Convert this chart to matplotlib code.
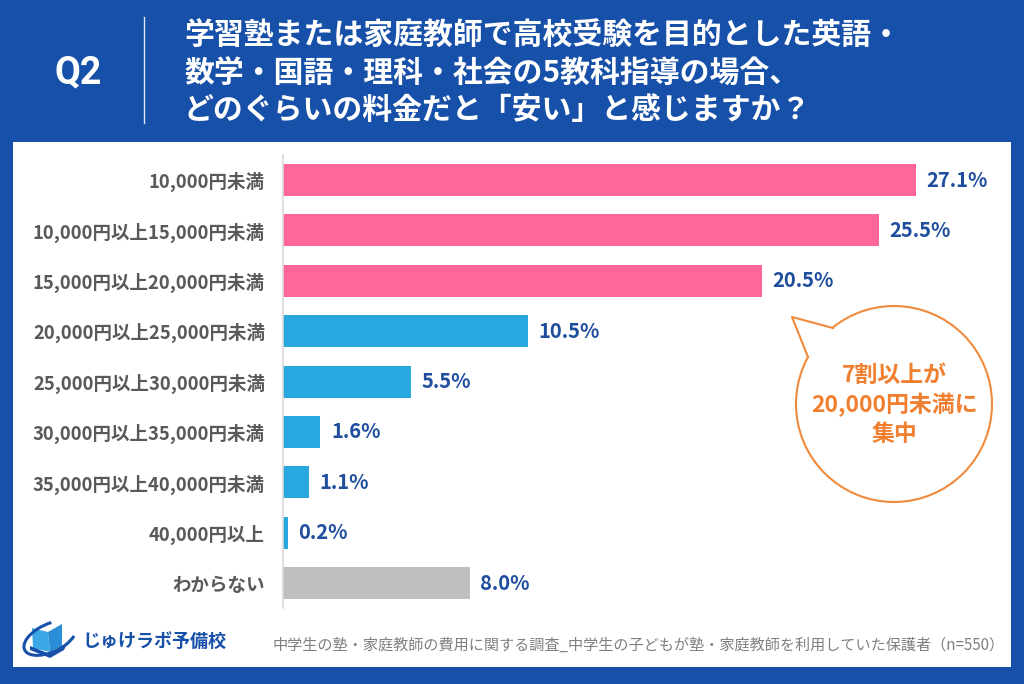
import matplotlib
matplotlib.use("Agg")
import matplotlib.pyplot as plt
from matplotlib.patches import Rectangle, Circle, Polygon, Arc

plt.rcParams['font.family'] = ['Noto Sans CJK JP', 'DejaVu Sans']

# data
categories = ["10,000円未満", "10,000円以上15,000円未満", "15,000円以上20,000円未満",
              "20,000円以上25,000円未満", "25,000円以上30,000円未満", "30,000円以上35,000円未満",
              "35,000円以上40,000円未満", "40,000円以上", "わからない"]
values = [27.1, 25.5, 20.5, 10.5, 5.5, 1.6, 1.1, 0.2, 8.0]
bar_colors = ["#ff6699"] * 3 + ["#29a8e0"] * 5 + ["#bfbfbf"]

title_lines = ["学習塾または家庭教師で高校受験を目的とした英語・",
               "数学・国語・理科・社会の5教科指導の場合、",
               "どのぐらいの料金だと「安い」と感じますか？"]
source = "中学生の塾・家庭教師の費用に関する調査_中学生の子どもが塾・家庭教師を利用していた保護者（n=550）"
bubble_text = "7割以上が\n20,000円未満に\n集中"

W, H = 1024, 684
BLUE = "#1750a8"
fig = plt.figure(figsize=(W / 100, H / 100), dpi=100)
fig.patch.set_facecolor(BLUE)

# overlay in pixel coords
ov = fig.add_axes([0, 0, 1, 1])
ov.set_xlim(0, W)
ov.set_ylim(H, 0)
ov.axis("off")
ov.add_patch(Rectangle((13, 142), 998, 525, facecolor="white", edgecolor="none", zorder=0))

# header
ov.text(78, 73, "Q2", color="white", fontsize=27, fontweight="bold", ha="center", va="center",
        family="Roboto")
ov.plot([144, 144], [17, 123], color="white", lw=1, alpha=0.85)
for i, line in enumerate(title_lines):
    ov.text(184, 36 + i * 37.5, line, color="white", fontsize=21.5, fontweight="bold",
            ha="left", va="center")

# bars
px_per = 23.36
ax_left, ax_right = 283, 1010
ax_top, ax_bot = 154.8, 608.4
ax = fig.add_axes([ax_left / W, (H - ax_bot) / H, (ax_right - ax_left) / W, (ax_bot - ax_top) / H])
ax.set_facecolor("none")
y = list(range(len(values)))
ax.barh(y, values, height=0.635, color=bar_colors, zorder=2)
ax.set_xlim(0, (ax_right - ax_left) / px_per)
ax.set_ylim(len(values) - 0.5, -0.5)
for s in ["top", "right", "bottom"]:
    ax.spines[s].set_visible(False)
ax.spines["left"].set_color("#d9d9d9")
ax.spines["left"].set_linewidth(1.2)
ax.set_xticks([])
ax.set_yticks(y)
ax.set_yticklabels(categories, fontsize=13.3, fontweight="bold", color="#595959")
ax.tick_params(axis="y", length=0, pad=13)
for yi, v in zip(y, values):
    ax.text(v + 0.45, yi, f"{v:.1f}%", va="center", ha="left", fontsize=14.5,
            fontweight="bold", color="#1f4e9e")

# speech bubble
cx, cy, r = 894, 404, 98
tip, b1, b2 = (792, 317), (833, 328), (808, 357)
ov.add_patch(Circle((cx, cy), r, facecolor="white", edgecolor="#f08a3c", lw=1.5, zorder=3))
ov.add_patch(Polygon([tip, b1, (cx, cy), b2], closed=True, facecolor="white",
                     edgecolor="none", zorder=4))
ov.plot([b1[0], tip[0], b2[0]], [b1[1], tip[1], b2[1]], color="#f08a3c", lw=1.5, zorder=5)
ov.text(cx, 405, bubble_text, color="#f08030", fontsize=16.5, fontweight="bold",
        ha="center", va="center", linespacing=1.3, zorder=6)

# footer logo
ov.add_patch(Polygon([(32, 628), (48, 632), (50, 652), (33, 648)],
                     closed=True, facecolor="#3aa8e4", edgecolor="none", zorder=3))
ov.add_patch(Polygon([(48, 632), (62, 624), (62, 646), (50, 652)],
                     closed=True, facecolor="#2a8fd6", edgecolor="none", zorder=3))
ov.add_patch(Polygon([(30, 646), (50, 654), (66, 646), (64, 650), (50, 658), (30, 650)],
                     closed=True, facecolor=BLUE, edgecolor="none", zorder=3))
ov.add_patch(Arc((50, 638), 56, 28, angle=-25, theta1=20, theta2=300, color=BLUE, lw=2.2, zorder=4))
ov.text(82, 641, "じゅけラボ予備校", color=BLUE, fontsize=13, fontweight="bold",
        ha="left", va="center", zorder=3)
ov.text(1005, 645, source, color="#808080", fontsize=10.9, ha="right", va="center", zorder=3)

fig.savefig("out.png", dpi=100, facecolor=BLUE)
